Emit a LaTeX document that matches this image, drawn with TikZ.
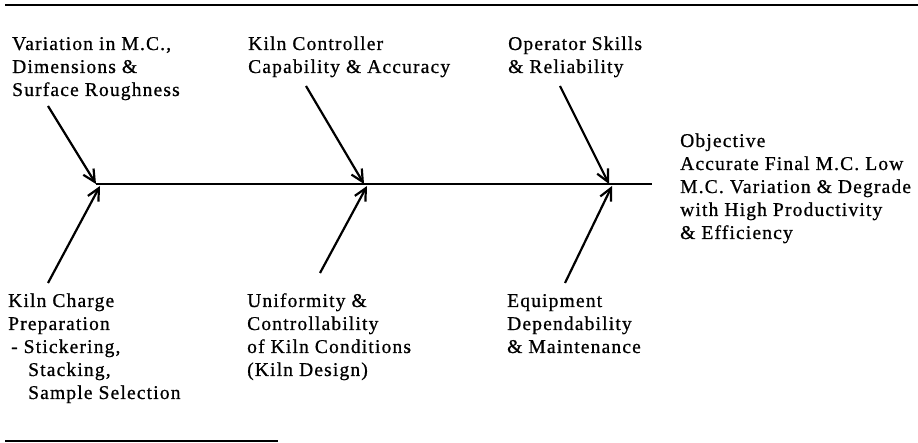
\documentclass[tikz,border=0pt]{standalone}
\usepackage{fontspec}
\setmainfont[LetterSpace=6,FakeBold=0.8]{Liberation Serif}
\usetikzlibrary{arrows.meta}
\newcommand{\lines}[1]{\begin{tabular}[t]{@{}l@{}}#1\end{tabular}}
\tikzset{
  lbl/.style={anchor=base west, inner sep=0pt, font=\fontsize{19.5}{23}\selectfont},
  rule/.style={line width=2.8pt},
  spine/.style={line width=2.8pt},
  cause/.style={line width=2.2pt, -{Straight Barb[length=12pt,width=12pt,line width=2.2pt]}}
}
\begin{document}
\begin{tikzpicture}[x=1pt,y=-1pt]
\useasboundingbox (0,0) rectangle (918,443);
% rules
\coordinate (tr1) at (5,5);
\coordinate (tr2) at (918,5);
\coordinate (br1) at (5,441);
\coordinate (br2) at (278,441);
\draw[rule] (tr1) -- (tr2);
\draw[rule] (br1) -- (br2);
% spine
\coordinate (j1) at (96,184);
\coordinate (j2) at (364,184);
\coordinate (j3) at (609,184);
\coordinate (send) at (652,184);
\draw[spine] (j1) -- (send);
% labels top
\node[lbl] (t1) at (12,50) {\lines{Variation in M.C.,\\Dimensions \&\\Surface Roughness}};
\node[lbl] (t2) at (248,50) {\lines{Kiln Controller\\Capability \& Accuracy}};
\node[lbl] (t3) at (508,50) {\lines{Operator Skills\\\& Reliability}};
% labels bottom
\node[lbl] (b1) at (8,307) {\lines{Kiln Charge\\Preparation\\\hspace{3pt}- Stickering,\\\hspace{20pt}Stacking,\\\hspace{20pt}Sample Selection}};
\node[lbl] (b2) at (247,307) {\lines{Uniformity \&\\Controllability\\of Kiln Conditions\\(Kiln Design)}};
\node[lbl] (b3) at (507,307) {\lines{Equipment\\Dependability\\\& Maintenance}};
% objective
\node[lbl] (obj) at (680,147) {\lines{Objective\\Accurate Final M.C. Low\\M.C. Variation \& Degrade\\with High Productivity\\\& Efficiency}};
% cause arrows
\coordinate (a1) at (48,106);
\coordinate (a2) at (306,86);
\coordinate (a3) at (560,86);
\coordinate (c1) at (48,283);
\coordinate (c2) at (320,273);
\coordinate (c3) at (565,283);
\coordinate (h1) at (100,186);
\coordinate (h2) at (367,186);
\coordinate (h3) at (612,186);
\draw[cause] (a1) -- (j1);
\draw[cause] (a2) -- (j2);
\draw[cause] (a3) -- (j3);
\draw[cause] (c1) -- (h1);
\draw[cause] (c2) -- (h2);
\draw[cause] (c3) -- (h3);
\end{tikzpicture}
\end{document}
